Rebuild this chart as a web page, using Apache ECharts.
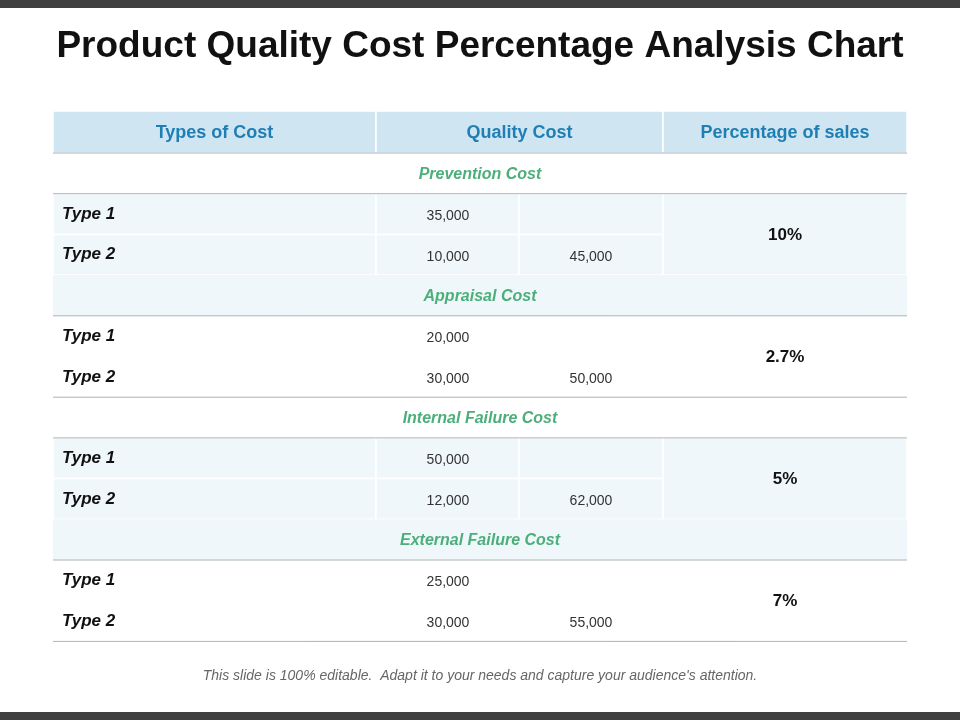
<!DOCTYPE html>
<html><head><meta charset="utf-8">
<script src="https://cdn.jsdelivr.net/npm/echarts@6/dist/echarts.min.js"></script>
<style>html,body{margin:0;padding:0;background:#fff}#main{width:960px;height:720px}</style>
</head><body><div id="main"></div>
<script>
// 表格数据
var headers = ['Types of Cost', 'Quality Cost', 'Percentage of sales'];
var sections = ['Prevention Cost', 'Appraisal Cost', 'Internal Failure Cost', 'External Failure Cost'];
var rowLabels = ['Type 1', 'Type 2'];
var type1Costs = ['35,000', '20,000', '50,000', '25,000'];
var type2Costs = ['10,000', '30,000', '12,000', '30,000'];
var totals = ['45,000', '50,000', '62,000', '55,000'];
var percents = ['10%', '2.7%', '5%', '7%'];

var L = 53, R = 907, C1 = 376, C2 = 519, C3 = 663;
var top0 = 111, headH = 42, rowH = 40.7;
var shade = '#eff7fb', lineC = '#a9b4ba';
var els = [];

function rect(x, y, w, h, fill, stroke) {
    els.push({type: 'rect', shape: {x: x, y: y, width: w, height: h},
        style: {fill: fill, stroke: stroke || null, lineWidth: stroke ? 1.5 : 0}});
}
function text(x, y, s, st) {
    els.push({type: 'text', x: x, y: y, style: Object.assign({text: s, textVerticalAlign: 'middle', verticalAlign: 'middle', fontFamily: 'Liberation Sans, Arial'}, st)});
}
function hline(y) {
    els.push({type: 'line', shape: {x1: L, y1: y, x2: R, y2: y}, style: {stroke: lineC, lineWidth: 1}});
}

// 顶部和底部深色条
rect(0, 0, 960, 8, '#404040');
rect(0, 712, 960, 8, '#404040');
text(480, 47, 'Product Quality Cost Percentage Analysis Chart', {fontSize: 37, fontWeight: 'bold', fill: '#111', align: 'center'});

// 表头
rect(L, top0, C1 - L, headH, '#cfe5f2', '#fff');
rect(C1, top0, C3 - C1, headH, '#cfe5f2', '#fff');
rect(C3, top0, R - C3, headH, '#cfe5f2', '#fff');
var hx = [(L + C1) / 2, (C1 + C3) / 2, (C3 + R) / 2];
headers.forEach(function (h, i) {
    text(hx[i], top0 + headH / 2 + 1, h, {fontSize: 18, fontWeight: 'bold', fill: '#1f7fb5', align: 'center'});
});
hline(top0 + headH);

sections.forEach(function (sec, i) {
    var y0 = top0 + headH + i * 3 * rowH;
    var shaded = i % 2 === 0;
    if (!shaded) rect(L, y0, R - L, rowH, shade);
    text(480, y0 + rowH / 2 + 1, sec, {fontSize: 16, fontWeight: 'bold', fontStyle: 'italic', fill: '#4caf7a', align: 'center'});
    if (i > 0 && shaded) hline(y0);
    var ry = y0 + rowH;
    if (shaded) {
        [[L, C1], [C1, C2], [C2, C3]].forEach(function (c) {
            rect(c[0], ry, c[1] - c[0], rowH, shade, '#fff');
            rect(c[0], ry + rowH, c[1] - c[0], rowH, shade, '#fff');
        });
        rect(C3, ry, R - C3, 2 * rowH, shade, '#fff');
    }
    hline(ry);
    var vals = [[type1Costs[i], ''], [type2Costs[i], totals[i]]];
    rowLabels.forEach(function (lab, k) {
        var cy = ry + k * rowH + rowH / 2;
        text(62, cy, lab, {fontSize: 17, fontWeight: 'bold', fontStyle: 'italic', fill: '#111', align: 'left'});
        text(448, cy + 2, vals[k][0], {fontSize: 14, fill: '#333', align: 'center'});
        if (vals[k][1]) text(591, cy + 2, vals[k][1], {fontSize: 14, fill: '#333', align: 'center'});
    });
    text((C3 + R) / 2, ry + rowH + 1, percents[i], {fontSize: 17, fontWeight: 'bold', fill: '#111', align: 'center'});
});
hline(top0 + headH + 12 * rowH);

text(480, 676, "This slide is 100% editable.  Adapt it to your needs and capture your audience's attention.", {fontSize: 14, fontStyle: 'italic', fill: '#666', align: 'center'});

var myChart = echarts.init(document.getElementById('main'));
myChart.setOption({graphic: {elements: els}});
</script></body></html>
